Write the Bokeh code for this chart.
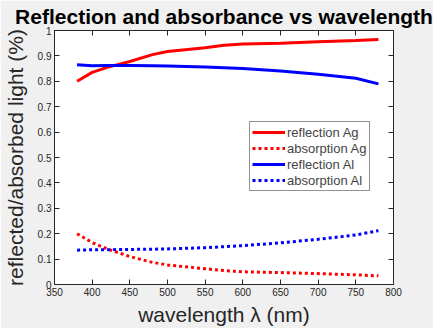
from bokeh.plotting import figure
from bokeh.models import LinearAxis, Range1d, Legend, LegendItem, FixedTicker
from bokeh.embed import file_html
from bokeh.resources import INLINE

wl = [380, 400, 420, 450, 480, 500, 550, 575, 600, 650, 700, 750, 780]
refl_ag = [0.80, 0.835, 0.855, 0.878, 0.905, 0.917, 0.932, 0.942, 0.947, 0.950, 0.956, 0.961, 0.965]
abs_ag = [0.20, 0.165, 0.14, 0.11, 0.087, 0.077, 0.062, 0.055, 0.050, 0.047, 0.043, 0.038, 0.034]
refl_al = [0.865, 0.861, 0.862, 0.862, 0.861, 0.860, 0.856, 0.853, 0.850, 0.841, 0.828, 0.812, 0.790]
abs_al = [0.135, 0.137, 0.137, 0.138, 0.139, 0.140, 0.145, 0.149, 0.153, 0.164, 0.178, 0.195, 0.212]

xticks = [350, 400, 450, 500, 550, 600, 650, 700, 750, 800]
yticks = [0, 0.1, 0.2, 0.3, 0.4, 0.5, 0.6, 0.7, 0.8, 0.9, 1]

FONT = "Liberation Sans"

p = figure(width=433, height=328, output_backend="svg", toolbar_location=None,
           x_range=Range1d(350, 800), y_range=Range1d(0, 1),
           min_border_left=10, min_border_right=40, min_border_bottom=10, min_border_top=2)
p.title.text = "Reflection and absorbance vs wavelength"
p.title.text_font = FONT
p.title.text_font_size = "21px"
p.title.text_font_style = "bold"
p.title.text_color = "black"
p.title.align = "center"
p.title.offset = 0
p.title.standoff = 5
p.background_fill_color = "white"
p.border_fill_color = "#f0f0f0"
p.outline_line_color = "#262626"
p.outline_line_width = 1
p.grid.visible = False

for ax in p.xaxis:
    ax.ticker = FixedTicker(ticks=xticks)
    ax.axis_label = "wavelength λ (nm)"
for ax in p.yaxis:
    ax.ticker = FixedTicker(ticks=yticks)
    ax.axis_label = "reflected/absorbed light (%)"

p.add_layout(LinearAxis(ticker=FixedTicker(ticks=xticks)), "above")
p.add_layout(LinearAxis(ticker=FixedTicker(ticks=yticks)), "right")

for ax in p.axis:
    ax.major_tick_in = 5
    ax.major_tick_out = 0
    ax.minor_tick_line_color = None
    ax.axis_line_color = "#262626"
    ax.major_tick_line_color = "#262626"
    ax.major_label_text_font = FONT
    ax.major_label_text_font_size = "10px"
    ax.major_label_text_color = "#262626"
    ax.axis_label_text_font = FONT
    ax.axis_label_text_font_size = "21px"
    ax.axis_label_text_font_style = "normal"
    ax.axis_label_text_color = "#262626"
    ax.major_label_standoff = 3
    ax.axis_label_standoff = 4
for ax in p.xaxis:
    ax.axis_label_standoff = 4
for ax in p.yaxis:
    ax.axis_label_standoff = 8
for ax in p.above + p.right:
    ax.major_label_text_font_size = "0px"
    ax.major_label_text_alpha = 0
    ax.major_label_standoff = 0

r1 = p.line(wl, refl_ag, line_color="#ff0000", line_width=3)
r2 = p.line(wl, abs_ag, line_color="#ff0000", line_width=3, line_dash="3 3")
r3 = p.line(wl, refl_al, line_color="#0000ff", line_width=3)
r4 = p.line(wl, abs_al, line_color="#0000ff", line_width=3, line_dash="3 3")

legend = Legend(items=[
    LegendItem(label="reflection Ag", renderers=[r1]),
    LegendItem(label="absorption Ag", renderers=[r2]),
    LegendItem(label="reflection Al", renderers=[r3]),
    LegendItem(label="absorption Al", renderers=[r4]),
], location=(195, 93))
legend.label_text_font = FONT
legend.label_text_font_size = "13px"
legend.label_standoff = 2
legend.glyph_width = 33
legend.glyph_height = 16
legend.label_height = 16
legend.spacing = 0
legend.padding = 2
legend.margin = 0
legend.border_line_color = "#262626"
legend.border_line_width = 1
p.add_layout(legend)

open("out.html", "w").write(file_html(p, INLINE))
